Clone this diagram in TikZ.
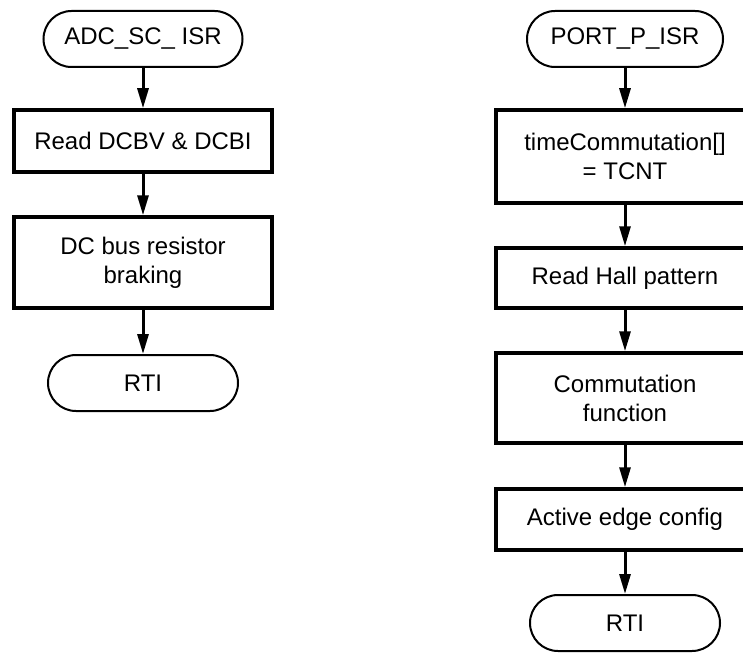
\documentclass[tikz,border=0pt]{standalone}
\usepackage{fontspec}
\setmainfont{Liberation Sans}
\usetikzlibrary{arrows.meta}
\begin{document}
\begin{tikzpicture}[x=1pt,y=1pt,
  font=\fontsize{24}{29}\selectfont,
  term/.style={draw, line width=2pt, rectangle, rounded corners=28pt,
    minimum width=#1, minimum height=56pt, inner sep=0pt, align=center},
  procbox/.style={draw, line width=3.5pt, rectangle, minimum width=258pt,
    minimum height=#1, inner sep=0pt, align=center},
  flow/.style={line width=3pt, -{Triangle[length=20pt,width=11pt]}}]
\useasboundingbox (0,0) rectangle (743,-655);
% left column
\node[term=199pt] (t1) at (143,-39) {ADC\_SC\_ ISR};
\node[procbox=62pt] (b1) at (143,-141) {Read DCBV \& DCBI};
\node[procbox=91pt] (b2) at (143,-262.5) {DC bus resistor\\braking};
\node[term=190pt] (r1) at (143,-383) {RTI};
\draw[flow] (t1) -- (b1);
\draw[flow] (b1) -- (b2);
\draw[flow] (b2) -- (r1);
% right column
\node[term=196pt] (t2) at (625,-39) {PORT\_P\_ISR};
\node[procbox=93pt] (b3) at (625,-156.5) {timeCommutation[]\\= TCNT};
\node[procbox=60pt] (b4) at (625,-278) {Read Hall pattern};
\node[procbox=90pt] (b5) at (625,-398) {Commutation\\function};
\node[procbox=61pt] (b6) at (625,-519.5) {Active edge config};
\node[term=190pt] (r2) at (625,-623) {RTI};
\draw[flow] (t2) -- (b3);
\draw[flow] (b3) -- (b4);
\draw[flow] (b4) -- (b5);
\draw[flow] (b5) -- (b6);
\draw[flow] (b6) -- (r2);
\end{tikzpicture}
\end{document}
